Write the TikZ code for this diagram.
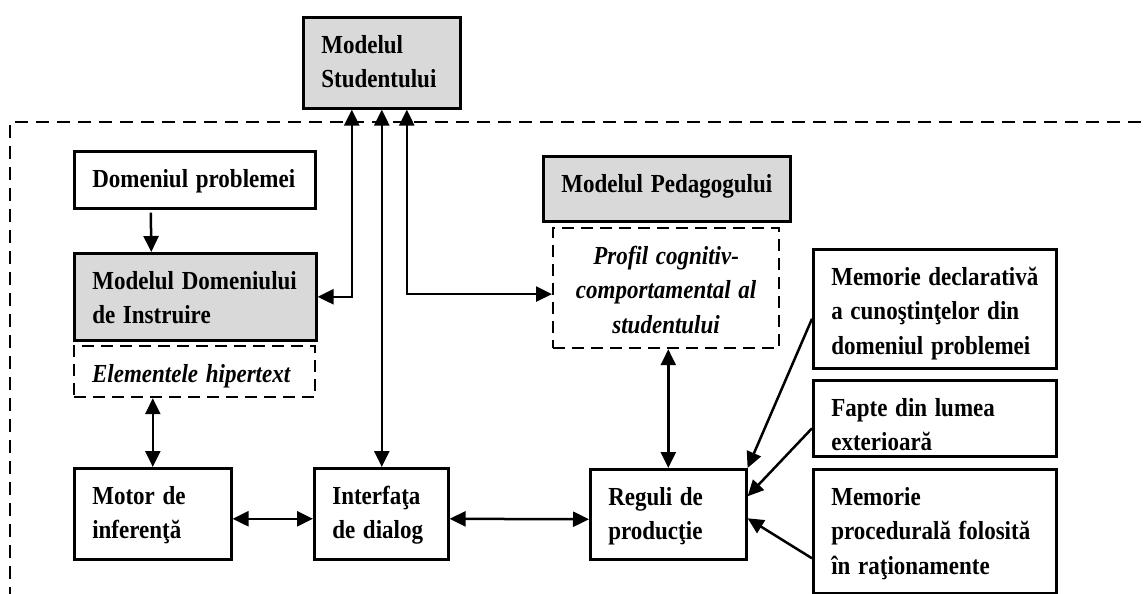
\documentclass[tikz,border=0pt]{standalone}
\usepackage{graphicx}
\usepackage{fontspec}
\setmainfont{Liberation Serif}
\usetikzlibrary{arrows.meta}
\definecolor{boxgrey}{RGB}{217,217,217}
% narrow the lettering a little, as in the original
\newcommand{\txt}[2][l]{\scalebox{0.885}[1]{\begin{tabular}[t]{@{}#1@{}}#2\end{tabular}}}

\begin{document}
\begin{tikzpicture}
[x=1pt,y=-1pt,%
  every node/.style={shape=rectangle,draw,line width=2.6pt,anchor=north west,
    inner xsep=18pt,inner ysep=0pt,align=left,text height=36pt,
    font=\fontsize{26}{34.5}\selectfont\bfseries},%
  blk/.style 2 args={text width=#1,text depth=#2},%
  grey/.style={fill=boxgrey},%
  dsh/.style={line width=2.2pt,dash pattern=on 12pt off 7pt,
    font=\fontsize{26}{34.5}\selectfont\bfseries\itshape},%
  arr/.style={line width=2.5pt,-{Triangle[length=16pt,width=15pt]}},%
  dbl/.style={line width=2.5pt,%
    {Triangle[length=16pt,width=15pt]}-{Triangle[length=16pt,width=15pt]}}]
\useasboundingbox (0,0) rectangle (1144,594);
% outer frame
\draw[line width=2.2pt,dash pattern=on 13pt off 8pt] (10,600) -- (10,122) -- (1150,122);
% boxes
\node[grey,blk={121pt}{55pt}] (stud) at (302,16) {\txt{Modelul\\Studentului}};
\node[blk={205pt}{21pt}] (domprob) at (73,150) {\txt{Domeniul problemei}};
\node[grey,blk={206pt}{51pt}] (domin) at (73,252) {\txt{Modelul Domeniului\\de Instruire}};
\node[dsh,blk={205pt}{15pt}] (elem) at (73,345) {\txt{Elementele hipertext}};
\node[blk={121pt}{55pt}] (motor) at (73,467) {\txt{Motor de\\inferenţă}};
\node[blk={98pt}{55pt}] (interf) at (313,467) {\txt{Interfaţa\\de dialog}};
\node[blk={120pt}{54pt}] (reguli) at (589,468) {\txt{Reguli de\\producţie}};
\node[grey,blk={211pt}{29pt}] (ped) at (542,155) {\txt{Modelul Pedagogului}};
\node[dsh,align=center,blk={190pt}{84pt}] (profil) at (552,227)
  {\txt[c]{Profil cognitiv-\\comportamental al\\studentului}};
\node[blk={207pt}{83pt}] (memdecl) at (812,248)
  {\txt{Memorie declarativă\\a cunoştinţelor din\\domeniul problemei}};
\node[blk={207pt}{40pt}] (fapte) at (812,379) {\txt{Fapte din lumea\\exterioară}};
\node[blk={207pt}{88pt}] (memproc) at (812,468)
  {\txt{Memorie\\procedurală folosită\\în raţionamente}};
% connectors
\draw[dbl] ([xshift=-30pt]stud.south) |- (domin.east);
\draw[dbl] ([xshift=25pt]stud.south) |- ([yshift=-6pt]profil.west);
\draw[dbl] (stud.south) -- (stud.south |- interf.north);
\draw[arr] ([xshift=-44pt,yshift=-3pt]domprob.south) -- ([xshift=-44pt]domin.north);
\draw[dbl] (motor.north) -- (motor.north |- elem.south);
\draw[dbl] ([yshift=-5pt]motor.east) -- ([yshift=-5pt]interf.west);
\draw[dbl] ([yshift=-5pt]interf.east) -- ([yshift=-5pt]reguli.west);
\draw[dbl] (reguli.north) -- (reguli.north |- profil.south);
\draw[arr] ([yshift=-10pt]memdecl.west) -- (reguli.north east);
\draw[arr] ([yshift=-10pt]fapte.west) -- ([yshift=18pt]reguli.east);
\draw[arr] ([yshift=-27pt]memproc.west) -- ([yshift=-4pt]reguli.east);
\end{tikzpicture}
\end{document}
